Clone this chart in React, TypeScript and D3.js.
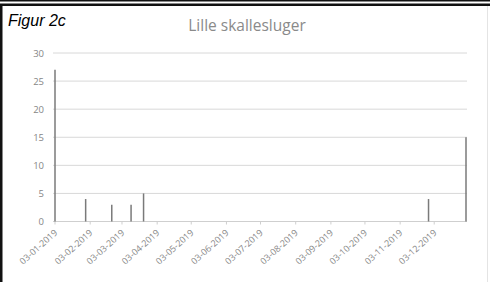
import React, { useEffect, useRef } from 'react';
import * as d3 from 'd3';

const obsDates = ['03-01-2019', '30-01-2019', '22-02-2019', '11-03-2019', '22-03-2019', '28-11-2019', '31-12-2019'];
const obsCounts = [27, 4, 3, 3, 5, 4, 15];

const yTicks = [0, 5, 10, 15, 20, 25, 30];
const xTickLabels = [
  '03-01-2019', '03-02-2019', '03-03-2019', '03-04-2019', '03-05-2019', '03-06-2019',
  '03-07-2019', '03-08-2019', '03-09-2019', '03-10-2019', '03-11-2019', '03-12-2019',
];

const parse = d3.timeParse('%d-%m-%Y');

const App: React.FC = () => {
  const ref = useRef<SVGSVGElement | null>(null);

  useEffect(() => {
    if (!ref.current) return;
    const svg = d3.select(ref.current);
    svg.selectAll('*').remove();

    const width = 490;
    const height = 282;
    const left = 55;
    const right = 466;
    const top = 53;
    const bottom = 221.5;
    const axisColor = '#868686';

    svg.append('rect').attr('width', width).attr('height', height).attr('fill', '#fff');

    // frame
    svg.append('rect').attr('x', 0).attr('y', 0).attr('width', width).attr('height', 1.5).attr('fill', '#111');
    svg.append('rect').attr('x', 0).attr('y', 3.5).attr('width', width).attr('height', 2.5).attr('fill', '#111');
    svg.append('rect').attr('x', 0).attr('y', 6).attr('width', 2.5).attr('height', height - 6).attr('fill', '#111');
    svg.append('line').attr('x1', 487.5).attr('x2', 487.5).attr('y1', 6).attr('y2', height)
      .attr('stroke', '#e4e4e4').attr('stroke-width', 1);

    const x = d3.scaleTime()
      .domain([parse('03-01-2019')!, parse('31-12-2019')!])
      .range([left, right]);
    const y = d3.scaleLinear().domain([0, 30]).range([bottom, top]);

    // gridlines
    svg.append('g').selectAll('line')
      .data(yTicks.filter(t => t > 0))
      .enter().append('line')
      .attr('x1', left - 2).attr('x2', right + 1)
      .attr('y1', d => y(d)).attr('y2', d => y(d))
      .attr('stroke', '#d8d8d8').attr('stroke-width', 1);

    // y labels
    svg.append('g').selectAll('text')
      .data(yTicks)
      .enter().append('text')
      .attr('x', 44).attr('y', d => y(d) + 3.5)
      .attr('text-anchor', 'end')
      .attr('font-family', 'Open Sans, sans-serif')
      .attr('font-size', 9.5)
      .attr('fill', axisColor)
      .text(d => d);

    // x axis line
    svg.append('line').attr('x1', left - 2).attr('x2', right + 1).attr('y1', bottom).attr('y2', bottom)
      .attr('stroke', '#cfcfcf').attr('stroke-width', 1);

    const tickDates = xTickLabels.map(s => parse(s)!);
    svg.append('g').selectAll('line')
      .data(tickDates)
      .enter().append('line')
      .attr('x1', d => x(d)).attr('x2', d => x(d))
      .attr('y1', bottom).attr('y2', bottom + 3)
      .attr('stroke', '#cfcfcf');

    svg.append('g').selectAll('text')
      .data(xTickLabels)
      .enter().append('text')
      .attr('transform', d => `translate(${x(parse(d)!) + 3},${bottom + 12}) rotate(-42)`)
      .attr('text-anchor', 'end')
      .attr('font-family', 'Open Sans, sans-serif')
      .attr('font-size', 9)
      .attr('fill', axisColor)
      .text(d => d);

    // bars (thin lines)
    svg.append('g').selectAll('line')
      .data(obsDates.map((d, i) => ({ date: parse(d)!, v: obsCounts[i] })))
      .enter().append('line')
      .attr('x1', d => x(d.date)).attr('x2', d => x(d.date))
      .attr('y1', bottom).attr('y2', d => y(d.v))
      .attr('stroke', '#7a7a7a').attr('stroke-width', 1.5);

    // title
    svg.append('text')
      .attr('x', 247).attr('y', 31)
      .attr('text-anchor', 'middle')
      .attr('font-family', 'Open Sans, sans-serif')
      .attr('font-size', 15.5)
      .attr('fill', '#8a8a8a')
      .text('Lille skallesluger');

    svg.append('text')
      .attr('x', 8).attr('y', 26)
      .attr('font-family', 'Liberation Sans, Arial, sans-serif')
      .attr('font-style', 'italic')
      .attr('font-size', 16)
      .attr('fill', '#000')
      .text('Figur 2c');
  }, []);

  return (
    <svg
      ref={ref}
      width={490}
      height={282}
      style={{ position: 'absolute', left: 0, top: 0, display: 'block' }}
    />
  );
};

export default App;
